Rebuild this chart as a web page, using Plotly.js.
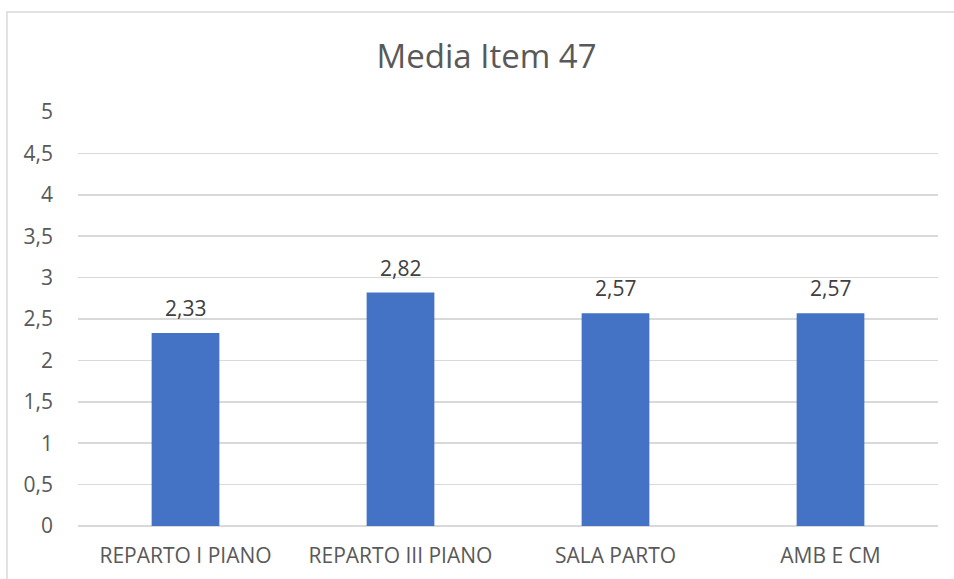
<!DOCTYPE html>
<html>
<head>
<meta charset="utf-8">
<script src="https://cdn.plot.ly/plotly-3.0.1.min.js"></script>
<style>html,body{margin:0;padding:0;background:#fff;}#chart{width:954px;height:579px;}</style>
</head>
<body>
<div id="chart"></div>
<script>
const categories = ["REPARTO I PIANO", "REPARTO III PIANO", "SALA PARTO", "AMB E CM"];
const values = [2.33, 2.82, 2.57, 2.57];
const tickValues = [0, 0.5, 1, 1.5, 2, 2.5, 3, 3.5, 4, 4.5, 5];
const tickLabels = ["0", "0,5", "1", "1,5", "2", "2,5", "3", "3,5", "4", "4,5", "5"];
const chartTitle = "Media Item 47";

const font = "'Open Sans', sans-serif";
const trace = {
  type: "bar",
  x: categories,
  y: values,
  marker: {color: "#4472c4"},
  hoverinfo: "none"
};
const labelAnnotations = categories.map((c, i) => ({
  x: c, y: values[i], xref: "x", yref: "y",
  text: values[i].toFixed(2).replace(".", ","),
  showarrow: false, yanchor: "middle", yshift: 25,
  font: {family: font, size: 21, color: "#404040"}
}));
const layout = {
  width: 954, height: 579,
  margin: {l: 78, r: 16, t: 112, b: 53},
  paper_bgcolor: "#fff", plot_bgcolor: "#fff",
  bargap: 0.685,
  showlegend: false,
  title: {text: chartTitle, font: {family: font, size: 33, color: "#595959"}, x: 0.51, xanchor: "center", y: 0.902, yanchor: "middle"},
  xaxis: {
    showgrid: false, zeroline: false, showline: false, ticks: "",
    tickfont: {family: font, size: 21, color: "#595959"},
    ticklabelstandoff: 15
  },
  yaxis: {
    range: [0, 5], tickvals: tickValues, ticktext: tickLabels,
    showgrid: true, gridcolor: "#d9d9d9", gridwidth: 1.5,
    zeroline: true, zerolinecolor: "#d9d9d9", zerolinewidth: 1.5,
    showline: false, ticks: "",
    tickfont: {family: font, size: 21, color: "#595959"},
    ticklabelstandoff: 24
  },
  annotations: labelAnnotations,
  shapes: [{
    type: "rect", xref: "paper", yref: "paper",
    x0: -0.0826, x1: 1.05, y0: -0.14, y1: 1.2415,
    line: {color: "#d9d9d9", width: 1.5}, fillcolor: "rgba(0,0,0,0)", layer: "below"
  }]
};
Plotly.newPlot("chart", [trace], layout, {staticPlot: true, displayModeBar: false});
</script>
</body>
</html>
